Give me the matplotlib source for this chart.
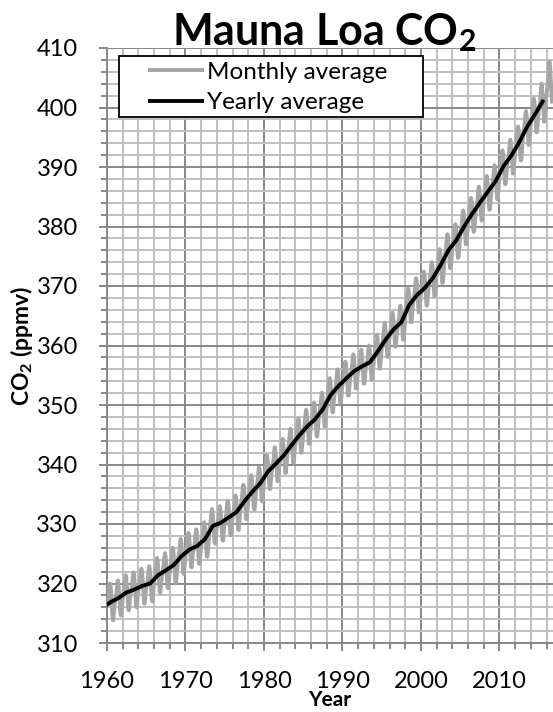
import matplotlib
matplotlib.use('Agg')
import matplotlib.pyplot as plt
from matplotlib.ticker import MultipleLocator
from matplotlib.patches import Rectangle
import numpy as np

plt.rcParams['font.family'] = ['Lato', 'DejaVu Sans']
plt.rcParams['mathtext.default'] = 'regular'

# yearly averages (ppmv), plotted at mid-year
yearly_years = list(range(1959, 2016))
yearly_co2 = [
    316.0, 316.9, 317.6, 318.5, 319.0, 319.6, 320.0, 321.4, 322.2, 323.1,
    324.6, 325.7, 326.3, 327.5, 329.7, 330.2, 331.1, 332.0, 333.8, 335.4,
    336.8, 338.8, 340.1, 341.5, 343.2, 344.9, 346.4, 347.6, 349.3, 351.7,
    353.2, 354.5, 355.7, 356.5, 357.2, 359.0, 361.0, 362.7, 363.9, 366.8,
    368.5, 369.7, 371.3, 373.5, 376.0, 377.7, 380.0, 382.1, 384.0, 385.8,
    387.6, 390.1, 391.9, 394.1, 396.7, 398.8, 401.0,
]

# monthly averages (ppmv), one row per year starting 1960, Jan..Dec
monthly_start = 1960
monthly_co2 = [
    [316.4, 317.0, 317.6, 319.0, 320.0, 319.6, 318.2, 315.9, 314.2, 313.8, 315.0, 316.2],
    [317.1, 317.7, 318.4, 319.7, 320.5, 320.0, 318.5, 316.5, 314.8, 314.6, 315.8, 317.0],
    [318.0, 318.6, 319.3, 320.6, 321.4, 320.9, 319.4, 317.4, 315.7, 315.5, 316.7, 317.9],
    [318.5, 319.1, 319.8, 321.1, 321.9, 321.4, 319.9, 317.9, 316.2, 316.0, 317.2, 318.4],
    [319.1, 319.7, 320.4, 321.7, 322.5, 322.0, 320.5, 318.5, 316.8, 316.6, 317.8, 319.0],
    [319.5, 320.1, 320.8, 322.1, 322.9, 322.4, 320.9, 318.9, 317.2, 317.0, 318.2, 319.4],
    [320.9, 321.5, 322.2, 323.5, 324.3, 323.8, 322.3, 320.3, 318.6, 318.4, 319.6, 320.8],
    [321.7, 322.3, 323.0, 324.3, 325.1, 324.6, 323.1, 321.1, 319.4, 319.2, 320.4, 321.6],
    [322.6, 323.2, 323.9, 325.2, 326.0, 325.5, 324.0, 322.0, 320.3, 320.1, 321.3, 322.5],
    [324.1, 324.7, 325.4, 326.7, 327.5, 327.0, 325.5, 323.5, 321.8, 321.6, 322.8, 324.0],
    [325.0, 325.7, 326.5, 327.8, 328.5, 327.9, 326.5, 324.5, 322.8, 322.7, 324.0, 325.3],
    [325.6, 326.3, 327.1, 328.4, 329.1, 328.5, 327.1, 325.1, 323.4, 323.3, 324.6, 325.9],
    [326.8, 327.5, 328.3, 329.6, 330.3, 329.7, 328.3, 326.3, 324.6, 324.5, 325.8, 327.1],
    [329.0, 329.7, 330.5, 331.8, 332.5, 331.9, 330.5, 328.5, 326.8, 326.7, 328.0, 329.3],
    [329.5, 330.2, 331.0, 332.3, 333.0, 332.4, 331.0, 329.0, 327.3, 327.2, 328.5, 329.8],
    [330.4, 331.1, 331.9, 333.2, 333.9, 333.3, 331.9, 329.9, 328.2, 328.1, 329.4, 330.7],
    [331.3, 332.0, 332.8, 334.1, 334.8, 334.2, 332.8, 330.8, 329.1, 329.0, 330.3, 331.6],
    [333.1, 333.8, 334.6, 335.9, 336.6, 336.0, 334.6, 332.6, 330.9, 330.8, 332.1, 333.4],
    [334.7, 335.4, 336.2, 337.5, 338.2, 337.6, 336.2, 334.2, 332.5, 332.4, 333.7, 335.0],
    [336.1, 336.8, 337.6, 338.9, 339.6, 339.0, 337.6, 335.6, 333.9, 333.8, 335.1, 336.4],
    [338.0, 338.6, 339.5, 340.8, 341.6, 341.0, 339.6, 337.6, 335.9, 335.9, 337.3, 338.5],
    [339.3, 339.9, 340.8, 342.1, 342.9, 342.3, 340.9, 338.9, 337.2, 337.2, 338.6, 339.8],
    [340.7, 341.3, 342.2, 343.5, 344.3, 343.7, 342.3, 340.3, 338.6, 338.6, 340.0, 341.2],
    [342.4, 343.0, 343.9, 345.2, 346.0, 345.4, 344.0, 342.0, 340.3, 340.3, 341.7, 342.9],
    [344.1, 344.7, 345.6, 346.9, 347.7, 347.1, 345.7, 343.7, 342.0, 342.0, 343.4, 344.6],
    [345.6, 346.2, 347.1, 348.4, 349.2, 348.6, 347.2, 345.2, 343.5, 343.5, 344.9, 346.1],
    [346.8, 347.4, 348.3, 349.6, 350.4, 349.8, 348.4, 346.4, 344.7, 344.7, 346.1, 347.3],
    [348.5, 349.1, 350.0, 351.3, 352.1, 351.5, 350.1, 348.1, 346.4, 346.4, 347.8, 349.0],
    [350.9, 351.5, 352.4, 353.7, 354.5, 353.9, 352.5, 350.5, 348.8, 348.8, 350.2, 351.4],
    [352.4, 353.0, 353.9, 355.2, 356.0, 355.4, 354.0, 352.0, 350.3, 350.3, 351.7, 352.9],
    [353.7, 354.3, 355.2, 356.5, 357.3, 356.7, 355.3, 353.3, 351.6, 351.6, 353.0, 354.2],
    [354.9, 355.5, 356.4, 357.7, 358.5, 357.9, 356.5, 354.5, 352.8, 352.8, 354.2, 355.4],
    [355.7, 356.3, 357.2, 358.5, 359.3, 358.7, 357.3, 355.3, 353.6, 353.6, 355.0, 356.2],
    [356.4, 357.0, 357.9, 359.2, 360.0, 359.4, 358.0, 356.0, 354.3, 354.3, 355.7, 356.9],
    [358.2, 358.8, 359.7, 361.0, 361.8, 361.2, 359.8, 357.8, 356.1, 356.1, 357.5, 358.7],
    [360.2, 360.8, 361.7, 363.0, 363.8, 363.2, 361.8, 359.8, 358.1, 358.1, 359.5, 360.7],
    [361.9, 362.5, 363.4, 364.7, 365.5, 364.9, 363.5, 361.5, 359.8, 359.8, 361.2, 362.4],
    [363.1, 363.7, 364.6, 365.9, 366.7, 366.1, 364.7, 362.7, 361.0, 361.0, 362.4, 363.6],
    [366.0, 366.6, 367.5, 368.8, 369.6, 369.0, 367.6, 365.6, 363.9, 363.9, 365.3, 366.5],
    [367.7, 368.3, 369.2, 370.5, 371.3, 370.7, 369.3, 367.3, 365.6, 365.6, 367.0, 368.2],
    [368.8, 369.4, 370.3, 371.7, 372.4, 371.8, 370.4, 368.3, 366.7, 366.8, 368.3, 369.6],
    [370.4, 371.0, 371.9, 373.3, 374.0, 373.4, 372.0, 369.9, 368.3, 368.4, 369.9, 371.2],
    [372.6, 373.2, 374.1, 375.5, 376.2, 375.6, 374.2, 372.1, 370.5, 370.6, 372.1, 373.4],
    [375.1, 375.7, 376.6, 378.0, 378.7, 378.1, 376.7, 374.6, 373.0, 373.1, 374.6, 375.9],
    [376.8, 377.4, 378.3, 379.7, 380.4, 379.8, 378.4, 376.3, 374.7, 374.8, 376.3, 377.6],
    [379.1, 379.7, 380.6, 382.0, 382.7, 382.1, 380.7, 378.6, 377.0, 377.1, 378.6, 379.9],
    [381.2, 381.8, 382.7, 384.1, 384.8, 384.2, 382.8, 380.7, 379.1, 379.2, 380.7, 382.0],
    [383.1, 383.7, 384.6, 386.0, 386.7, 386.1, 384.7, 382.6, 381.0, 381.1, 382.6, 383.9],
    [384.9, 385.5, 386.4, 387.8, 388.5, 387.9, 386.5, 384.4, 382.8, 382.9, 384.4, 385.7],
    [386.7, 387.3, 388.2, 389.6, 390.3, 389.7, 388.3, 386.2, 384.6, 384.7, 386.2, 387.5],
    [389.2, 389.8, 390.7, 392.1, 392.8, 392.2, 390.8, 388.7, 387.1, 387.2, 388.7, 390.0],
    [391.0, 391.6, 392.5, 393.9, 394.6, 394.0, 392.6, 390.5, 388.9, 389.0, 390.5, 391.8],
    [393.2, 393.8, 394.7, 396.1, 396.8, 396.2, 394.8, 392.7, 391.1, 391.2, 392.7, 394.0],
    [395.8, 396.4, 397.3, 398.7, 399.4, 398.8, 397.4, 395.3, 393.7, 393.8, 395.3, 396.6],
    [397.9, 398.5, 399.4, 400.8, 401.5, 400.9, 399.5, 397.4, 395.8, 395.9, 397.4, 398.7],
    [400.0, 400.3, 401.5, 403.3, 404.0, 402.8, 401.3, 398.9, 397.6, 398.3, 400.2, 401.9],
    [402.5, 404.0, 404.8, 407.4, 407.7, 406.8, 404.4, 402.3, 401.0],
]

# decimal-year positions for the monthly values
mx, my = [], []
for k, row in enumerate(monthly_co2):
    for m, v in enumerate(row):
        mx.append(monthly_start + k + (m + 0.5) / 12)
        my.append(v)

yx = np.array(yearly_years) + 0.5

fig = plt.figure(figsize=(5.53, 7.12), dpi=100)
ax = fig.add_axes([107 / 553, 1 - 643 / 712, 446 / 553, 595 / 712])

ax.plot(mx, my, color='#a6a6a6', lw=2.8, label='Monthly average', zorder=3)
ax.plot(yx, yearly_co2, color='black', lw=2.8, label='Yearly average', zorder=4)

ax.set_xlim(1960, 2016.82)
ax.set_ylim(310, 410)
ax.xaxis.set_major_locator(MultipleLocator(10))
ax.xaxis.set_minor_locator(MultipleLocator(2))
ax.yaxis.set_major_locator(MultipleLocator(10))
ax.yaxis.set_minor_locator(MultipleLocator(2))

ax.grid(which='minor', color='#c0c0c0', lw=1.4, zorder=0)
ax.grid(which='major', color='#888888', lw=1.4, zorder=1)
ax.set_axisbelow(True)

for s in ['top', 'right']:
    ax.spines[s].set_visible(False)
for s in ['left', 'bottom']:
    ax.spines[s].set_color('#888888')
    ax.spines[s].set_linewidth(1.4)

ax.tick_params(which='major', length=6, width=1.4, color='#888888', labelsize=17)
ax.tick_params(which='minor', length=4.3, width=1.4, color='#888888')
ax.tick_params(axis='y', which='major', pad=15)
ax.tick_params(axis='x', which='major', pad=14)

# legend box (Excel-style, wider than its text)
ax.add_patch(Rectangle((0.0269, 0.8840), 0.6816, 0.1025, transform=ax.transAxes,
                       facecolor='white', edgecolor='black', lw=1.3, zorder=5))
leg = ax.legend(loc='upper left', bbox_to_anchor=(0.0964, 0.9765), fontsize=17.5,
                frameon=False, handlelength=2.15, handletextpad=0.2,
                borderpad=0, labelspacing=0.39, borderaxespad=0)
leg.set_zorder(6)

fig.text(0.586, 1 - 45 / 712, 'Mauna Loa CO$_2$', fontsize=31, fontweight='bold',
         ha='center', va='baseline')
ax.set_ylabel('CO$_2$ (ppmv)', fontsize=16.5, fontweight='bold', labelpad=1)
ax.set_xlabel('Year', fontsize=15, fontweight='bold', labelpad=-1)

fig.savefig('out.png', dpi=100)
